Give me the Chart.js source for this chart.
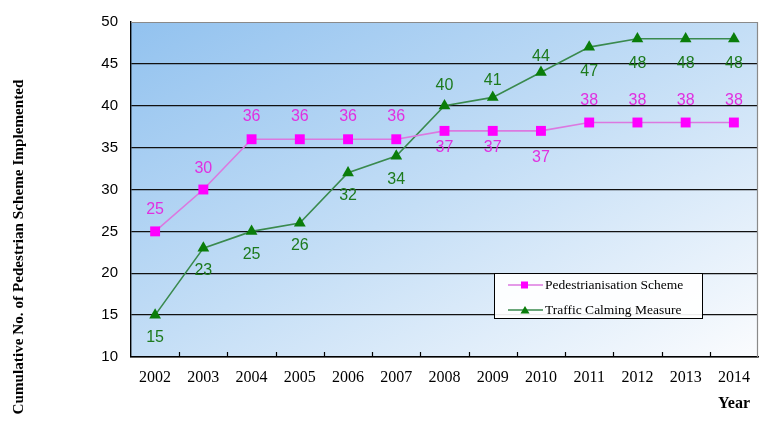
<!DOCTYPE html>
<html>
<head>
<meta charset="utf-8">
<script src="https://cdn.jsdelivr.net/npm/chart.js@4/dist/chart.umd.min.js"></script>
<style>
  html, body { margin: 0; padding: 0; background: #ffffff; }
  #wrap { width: 769px; height: 423px; position: relative; }
</style>
</head>
<body>
<div id="wrap"><canvas id="chart" width="769" height="423"></canvas></div>
<script>
// Years on the horizontal axis
const years = ['2002', '2003', '2004', '2005', '2006', '2007', '2008',
               '2009', '2010', '2011', '2012', '2013', '2014'];

// Cumulative number of schemes implemented per year
const pedestrianisation = [25, 30, 36, 36, 36, 36, 37, 37, 37, 38, 38, 38, 38];
const trafficCalming    = [15, 23, 25, 26, 32, 34, 40, 41, 44, 47, 48, 48, 48];

// Vertical axis ticks
const yTicks = [10, 15, 20, 25, 30, 35, 40, 45, 50];

// Value-label placement (pixels from the point; negative = above)
const pedLabelShift     = [-22, -21, -23, -23, -23, -23, 17, 17, 27, -22, -22, -22, -22];
const trafficLabelShift = [22, 22, 23, 23, 23, 24, -20, -17, -16, 24, 25, 25, 25];

const PLOT = { left: 131, top: 17, right: 758, bottom: 357 };

// Diagonal blue wash behind the plot area
const plotBackground = {
  id: 'plotBackground',
  beforeDraw(chart) {
    const { ctx, chartArea: a } = chart;
    const cx = (a.left + a.right) / 2, cy = (a.top + a.bottom) / 2;
    const w = a.right - a.left, h = a.bottom - a.top;
    const len = Math.hypot(h, w);
    const dx = h / len, dy = w / len;
    const k = (w / 2 * dx + h / 2 * dy);
    const g = ctx.createLinearGradient(cx - k * dx, cy - k * dy, cx + k * dx, cy + k * dy);
    g.addColorStop(0, '#92c2ef');
    g.addColorStop(0.5, '#c4def6');
    g.addColorStop(1, '#fbfcfe');
    ctx.save();
    ctx.fillStyle = g;
    ctx.fillRect(a.left, a.top, w, h);
    ctx.restore();
  },
  afterDatasetsDraw(chart) {
    const { ctx, chartArea: a } = chart;
    const x = chart.scales.x;
    ctx.save();
    // grey frame on top and right
    ctx.strokeStyle = '#8a8a8a';
    ctx.lineWidth = 1.2;
    ctx.beginPath();
    ctx.moveTo(a.left, a.top + 0.5);
    ctx.lineTo(a.right - 0.5, a.top + 0.5);
    ctx.lineTo(a.right - 0.5, a.bottom);
    ctx.stroke();
    // small inward tick marks between categories
    ctx.strokeStyle = '#000';
    ctx.lineWidth = 1.2;
    ctx.beginPath();
    for (let i = 1; i < years.length; i++) {
      const px = Math.round((x.getPixelForTick(i - 1) + x.getPixelForTick(i)) / 2) + 0.5;
      ctx.moveTo(px, a.bottom);
      ctx.lineTo(px, a.bottom - 5);
    }
    ctx.stroke();
    ctx.restore();
  }
};

// Numbers printed next to each point
const valueLabels = {
  id: 'valueLabels',
  afterDatasetsDraw(chart) {
    const { ctx } = chart;
    ctx.save();
    ctx.font = '16px "Liberation Sans", Arial, sans-serif';
    ctx.textAlign = 'center';
    ctx.textBaseline = 'middle';
    chart.data.datasets.forEach((ds, di) => {
      const meta = chart.getDatasetMeta(di);
      ctx.fillStyle = ds.labelColor;
      meta.data.forEach((pt, i) => {
        ctx.fillText(String(ds.data[i]), pt.x, pt.y + ds.labelShift[i]);
      });
    });
    ctx.restore();
  }
};

// Boxed legend inside the plot, axis captions
const extras = {
  id: 'extras',
  afterDraw(chart) {
    const { ctx } = chart;
    ctx.save();
    // legend box
    const bx = 494, by = 273, bw = 208, bh = 45;
    ctx.fillStyle = 'rgba(255,255,255,0.92)';
    ctx.fillRect(bx, by, bw, bh);
    ctx.strokeStyle = '#000';
    ctx.lineWidth = 1;
    ctx.strokeRect(bx + 0.5, by + 0.5, bw, bh);
    ctx.font = '13.5px "Liberation Serif", "Times New Roman", serif';
    ctx.textBaseline = 'middle';
    chart.data.datasets.forEach((ds, di) => {
      const y = by + 12 + di * 25;
      ctx.strokeStyle = ds.borderColor;
      ctx.lineWidth = 1.3;
      ctx.beginPath();
      ctx.moveTo(508, y);
      ctx.lineTo(543, y);
      ctx.stroke();
      ctx.fillStyle = ds.pointBackgroundColor;
      ctx.beginPath();
      if (ds.pointStyle === 'rect') {
        ctx.rect(521, y - 3.5, 7, 7);
      } else {
        ctx.moveTo(525, y - 4);
        ctx.lineTo(529.5, y + 3.5);
        ctx.lineTo(520.5, y + 3.5);
        ctx.closePath();
      }
      ctx.fill();
      ctx.fillStyle = '#000';
      ctx.textAlign = 'left';
      ctx.fillText(ds.label, 545, y);
    });
    // vertical axis caption
    ctx.font = 'bold 15.2px "Liberation Serif", "Times New Roman", serif';
    ctx.fillStyle = '#000';
    ctx.textAlign = 'center';
    ctx.translate(19, 247);
    ctx.rotate(-Math.PI / 2);
    ctx.fillText('Cumulative No. of Pedestrian Scheme Implemented', 0, 0);
    ctx.restore();
    ctx.save();
    ctx.font = 'bold 16px "Liberation Serif", "Times New Roman", serif';
    ctx.fillStyle = '#000';
    ctx.textAlign = 'center';
    ctx.textBaseline = 'middle';
    ctx.fillText('Year', 734, 404);
    ctx.restore();
  }
};

new Chart(document.getElementById('chart'), {
  type: 'line',
  data: {
    labels: years,
    datasets: [
      {
        label: 'Pedestrianisation Scheme',
        data: pedestrianisation,
        borderColor: '#dc78e0',
        borderWidth: 1.6,
        pointStyle: 'rect',
        pointRadius: 7,
        pointBackgroundColor: '#ff00ff',
        pointBorderColor: '#ff00ff',
        pointBorderWidth: 0,
        labelColor: '#e030e0',
        labelShift: pedLabelShift,
        tension: 0
      },
      {
        label: 'Traffic Calming Measure',
        data: trafficCalming,
        borderColor: '#3a8a4e',
        borderWidth: 1.6,
        pointStyle: 'triangle',
        pointRadius: 6.8,
        pointBackgroundColor: '#0a7d0a',
        pointBorderColor: '#0a7d0a',
        pointBorderWidth: 0,
        labelColor: '#1d7a1d',
        labelShift: trafficLabelShift,
        tension: 0
      }
    ]
  },
  options: {
    responsive: false,
    animation: false,
    events: [],
    layout: { padding: { left: 0, top: PLOT.top, right: 769 - PLOT.right, bottom: 0 } },
    plugins: { legend: { display: false }, title: { display: false }, tooltip: { enabled: false } },
    scales: {
      x: {
        type: 'category',
        offset: true,
        afterFit(s) { s.height = 423 - PLOT.bottom; },
        grid: { display: false, drawTicks: false },
        border: { display: true, color: '#000', width: 1.4 },
        ticks: {
          color: '#000',
          padding: 11,
          maxRotation: 0,
          font: { family: '"Liberation Serif", "Times New Roman", serif', size: 16 }
        }
      },
      y: {
        min: 10,
        max: 50,
        afterFit(s) { s.width = PLOT.left; },
        afterBuildTicks(s) { s.ticks = yTicks.map(v => ({ value: v })); },
        grid: {
          drawTicks: false,
          color: c => (c.tick && c.tick.value === 50) ? 'rgba(0,0,0,0)' : '#111',
          lineWidth: 1.3
        },
        border: { display: true, color: '#000', width: 1.4 },
        ticks: {
          color: '#000',
          padding: 13,
          font: { family: '"Liberation Sans", Arial, sans-serif', size: 15 }
        }
      }
    }
  },
  plugins: [plotBackground, valueLabels, extras]
});
</script>
</body>
</html>
